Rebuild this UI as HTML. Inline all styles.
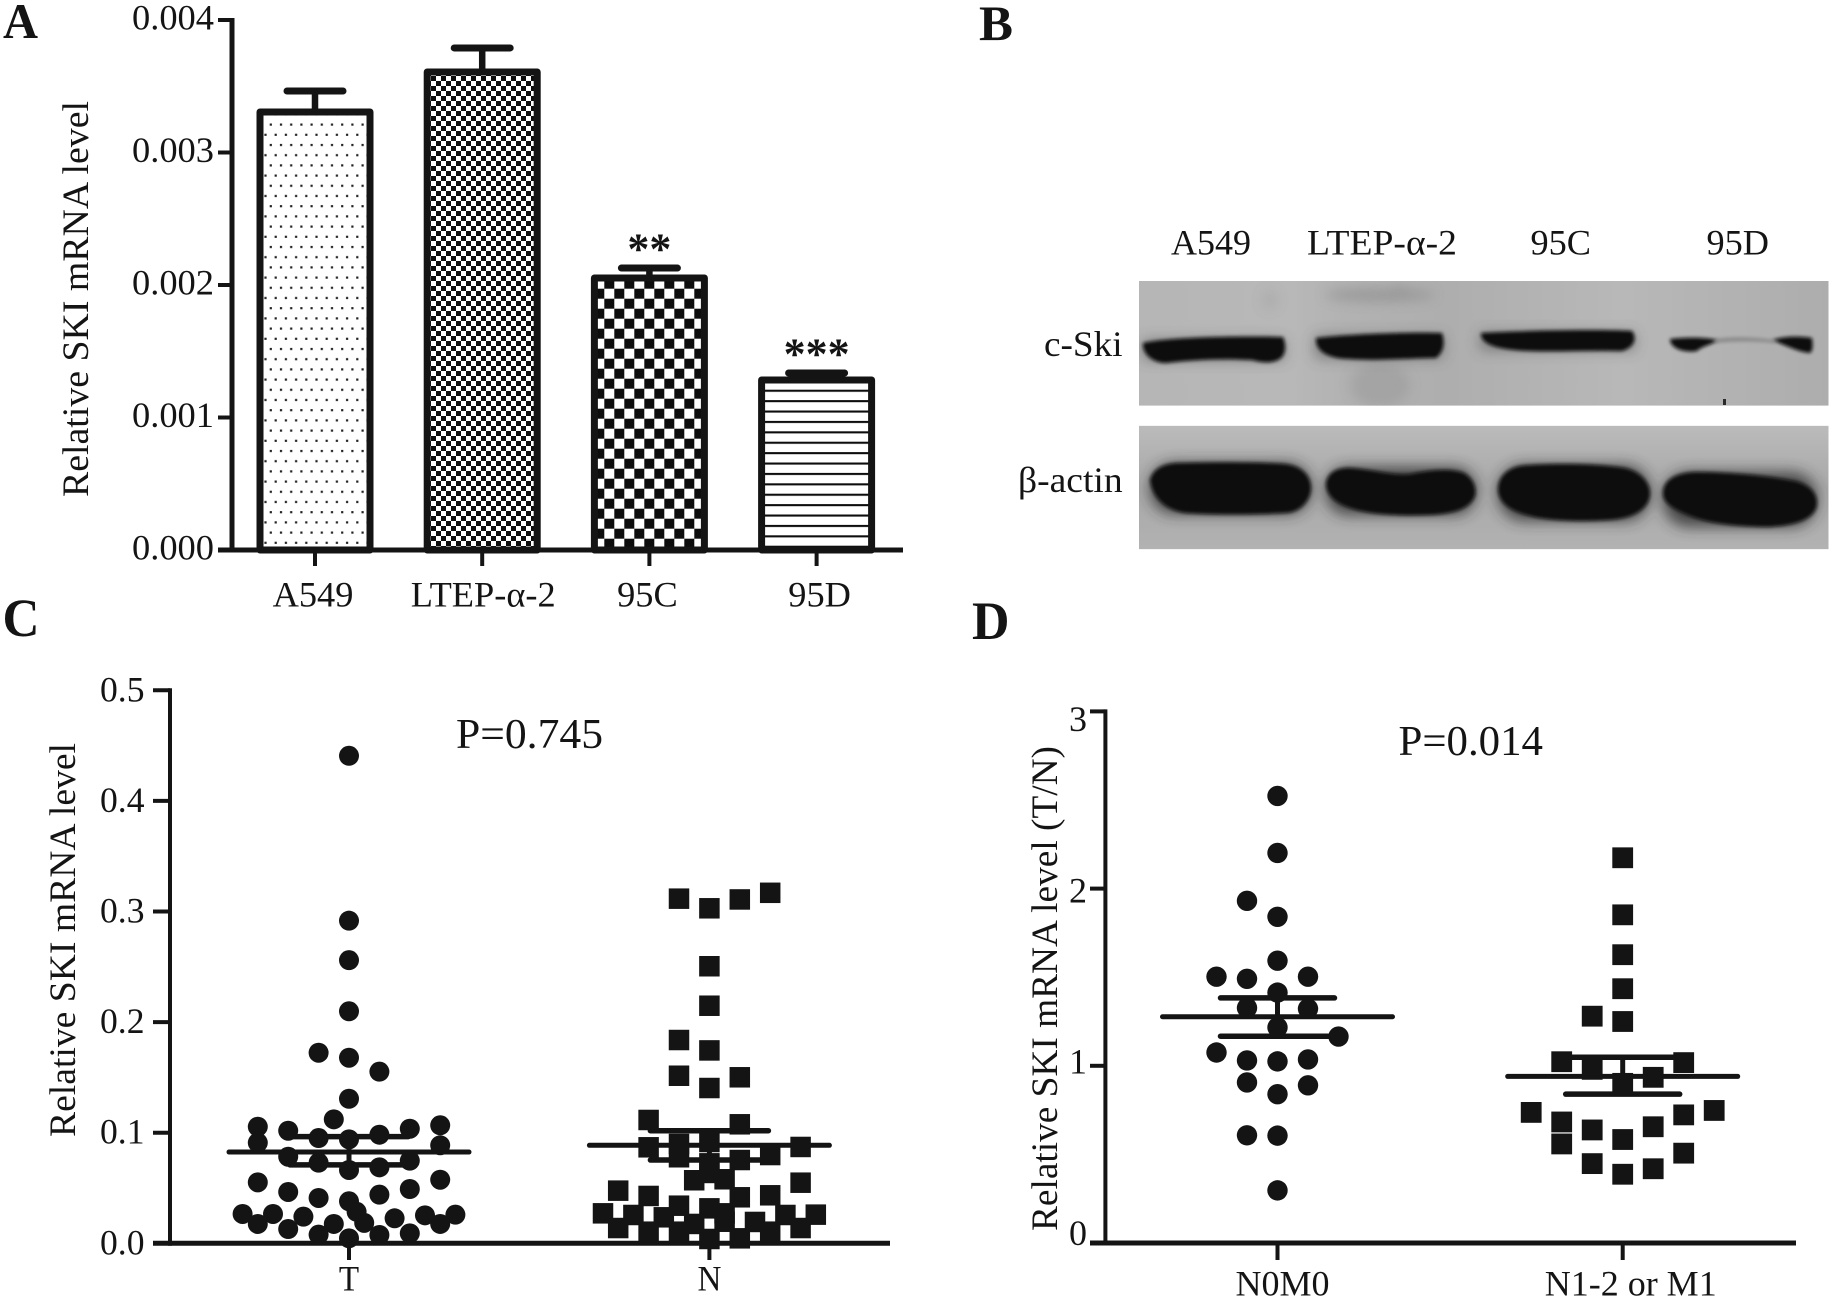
<!DOCTYPE html>
<html lang="en">
<head>
<meta charset="utf-8">
<title>SKI mRNA level figure</title>
<style>
html,body{margin:0;padding:0;background:#fff;}
svg{display:block;}
text{font-family:"Liberation Serif","Noto Serif CJK SC",serif;fill:#141414;}
</style>
</head>
<body>
<svg id="figure" xmlns="http://www.w3.org/2000/svg" width="1830" height="1296" viewBox="0 0 1830 1296">
  <defs>
    <pattern id="fill-dots" patternUnits="userSpaceOnUse" width="20.4" height="20.4" patternTransform="translate(260.5 123.5)">
      <rect width="20.4" height="20.4" fill="#fff"/>
      <rect x="9.2" y="0" width="2.2" height="2.2" fill="#222"/>
      <rect x="3.9" y="10.2" width="2.2" height="2.2" fill="#222"/>
      <rect x="14.1" y="10.2" width="2.2" height="2.2" fill="#222"/>
      <rect x="19.4" y="0" width="1" height="2.2" fill="#222"/>
      <rect x="0" y="0" width="1.2" height="2.2" fill="#222"/>
    </pattern>
    <pattern id="fill-fine-check" patternUnits="userSpaceOnUse" width="10" height="10" patternTransform="translate(431 76)">
      <rect width="10" height="10" fill="#fff"/>
      <rect x="0" y="0" width="5" height="5" fill="#0d0d0d"/>
      <rect x="5" y="5" width="5" height="5" fill="#0d0d0d"/>
    </pattern>
    <pattern id="fill-coarse-check" patternUnits="userSpaceOnUse" width="20" height="20" patternTransform="translate(604.3 278.7)">
      <rect width="20" height="20" fill="#fff"/>
      <rect x="0" y="0" width="10" height="10" fill="#0d0d0d"/>
      <rect x="10" y="10" width="10" height="10" fill="#0d0d0d"/>
    </pattern>
    <pattern id="fill-lines" patternUnits="userSpaceOnUse" width="10.4" height="10.4" patternTransform="translate(760 389.7)">
      <rect width="10.4" height="10.4" fill="#fff"/>
      <rect x="0" y="0" width="10.4" height="2.1" fill="#0d0d0d"/>
    </pattern>
    <linearGradient id="blot-top-bg" x1="0" y1="0" x2="1" y2="0">
      <stop offset="0" stop-color="#b6b6b6"/>
      <stop offset="0.22" stop-color="#b8b8b8"/>
      <stop offset="0.3" stop-color="#b2b2b2"/>
      <stop offset="0.45" stop-color="#aeaeae"/>
      <stop offset="0.7" stop-color="#b8b8b8"/>
      <stop offset="1" stop-color="#adadad"/>
    </linearGradient>
    <linearGradient id="blot-bottom-bg" x1="0" y1="0" x2="0" y2="1">
      <stop offset="0" stop-color="#bbbbbb"/>
      <stop offset="0.5" stop-color="#a8a8a8"/>
      <stop offset="1" stop-color="#b2b2b2"/>
    </linearGradient>
    <filter id="blur-band" x="-10%" y="-40%" width="120%" height="180%"><feGaussianBlur stdDeviation="1.8"/></filter>
    <filter id="blur-halo" x="-15%" y="-50%" width="130%" height="200%"><feGaussianBlur stdDeviation="7"/></filter>
    <filter id="blur-smear" x="-30%" y="-80%" width="160%" height="260%"><feGaussianBlur stdDeviation="6"/></filter>
    <clipPath id="clip-top"><rect x="1139" y="281" width="689.5" height="124.7"/></clipPath>
    <clipPath id="clip-bottom"><rect x="1139" y="425.7" width="689.5" height="123.6"/></clipPath>
  </defs>

  <g>
    <g clip-path="url(#clip-top)">
      <rect x="1139" y="281" width="689.5" height="124.7" fill="url(#blot-top-bg)"/>
      <g fill="#8f8f8f" filter="url(#blur-smear)" opacity="0.75">
        <ellipse cx="1380" cy="295" rx="55" ry="6"/>
        <ellipse cx="1400" cy="293" rx="10" ry="7"/>
        <ellipse cx="1380" cy="385" rx="30" ry="22" opacity="0.5"/>
        <ellipse cx="1270" cy="300" rx="8" ry="10" opacity="0.35"/>
      </g>
      <g fill="#404040" filter="url(#blur-halo)" opacity="0.5">
        <path d="M1143,340 H1284 V360 H1143 Z"/>
        <path d="M1315,336 H1443 V358 H1315 Z"/>
        <path d="M1480,333 H1635 V350 H1480 Z"/>
      </g>
      <g fill="#0b0b0b" filter="url(#blur-band)">
        <path d="M1143,343 C1170,337 1240,336 1283,337 C1286,344 1286,352 1282,357 C1275,364 1262,363 1252,360 C1220,358 1190,360 1166,363 C1152,363 1142,353 1143,343 Z"/>
        <path d="M1316,338 C1350,334 1410,332 1442,333 C1445,342 1444,352 1436,358 C1410,358 1380,361 1350,359 C1330,359 1315,352 1316,338 Z"/>
        <path d="M1481,333 C1520,331 1590,329 1632,331 C1637,338 1635,347 1622,351 C1590,350 1560,352 1530,351 C1500,350 1480,345 1481,333 Z"/>
        <path d="M1670,339 C1685,337 1705,337 1718,340 C1712,345 1702,346 1697,351 C1688,353 1670,350 1670,339 Z"/>
        <path d="M1772,340 C1785,336 1800,336 1812,338 C1813,345 1813,351 1810,353 C1798,352 1785,345 1772,340 Z"/>
      </g>
      <path d="M1715,339 C1735,336 1755,337 1775,340 L1775,343 C1755,341 1735,341 1715,343 Z" fill="#8a8a8a" filter="url(#blur-band)"/>
      <rect x="1723" y="399" width="3" height="6" fill="#2a2a2a"/>
    </g>
    <g clip-path="url(#clip-bottom)">
      <rect x="1139" y="425.7" width="689.5" height="123.6" fill="url(#blot-bottom-bg)"/>
      <g fill="#2e2e2e" filter="url(#blur-halo)" opacity="0.8">
        <rect x="1150" y="463" width="161" height="51" rx="24"/>
        <rect x="1326" y="467" width="150" height="48" rx="22"/>
        <rect x="1498" y="465" width="152" height="56" rx="26"/>
        <rect x="1663" y="472" width="154" height="55" rx="26"/>
      </g>
      <g fill="#090909" filter="url(#blur-band)">
        <path d="M1150,480 C1153,468 1165,463 1180,463 C1220,462 1260,462 1285,464 C1302,466 1311,476 1311,488 C1311,500 1300,513 1285,513 C1250,515 1210,515 1185,513 C1165,510 1152,497 1150,480 Z"/>
        <path d="M1326,484 C1327,472 1338,467 1352,468 C1375,470 1395,476 1410,474 C1430,470 1450,468 1464,473 C1473,478 1477,488 1475,496 C1470,510 1450,514 1430,515 C1400,516 1370,515 1350,508 C1335,503 1326,495 1326,484 Z"/>
        <path d="M1498,490 C1498,475 1510,465 1530,465 C1565,463 1600,464 1625,468 C1642,472 1650,484 1650,493 C1650,508 1635,518 1610,520 C1580,522 1550,521 1530,516 C1510,511 1499,503 1498,490 Z"/>
        <path d="M1663,492 C1664,480 1675,473 1695,472 C1730,472 1770,476 1795,481 C1810,485 1817,493 1817,503 C1817,517 1800,525 1770,527 C1740,527 1710,524 1690,516 C1672,509 1662,502 1663,492 Z"/>
      </g>
    </g>
  </g>
  <g id="layer"></g>
</svg>

<script>
/* ---------- Panel A data ---------- */
const barCategories = ['A549', 'LTEP-α-2', '95C', '95D'];
const barValues = [0.003306, 0.003608, 0.002053, 0.001283];
const barErrors = [0.000158, 0.000181, 0.000075, 0.000053];
const barSignificance = ['', '', '**', '***'];
const barTickValues = [0, 0.001, 0.002, 0.003, 0.004];
const barTickLabels = ['0.000', '0.001', '0.002', '0.003', '0.004'];

/* ---------- Panel C data ---------- */
const tnCategories = ['T', 'N'];
const tnTickValues = [0, 0.1, 0.2, 0.3, 0.4, 0.5];
const tnTickLabels = ['0.0', '0.1', '0.2', '0.3', '0.4', '0.5'];
const tValues = [0.4408, 0.2917, 0.256, 0.2098, 0.1723, 0.1678, 0.1552, 0.1307, 0.1121, 0.1054, 0.091, 0.1018, 0.0952, 0.094, 0.0982, 0.1036, 0.1067, 0.0886, 0.0783, 0.0729, 0.0663, 0.0687, 0.0747, 0.0551, 0.0464, 0.041, 0.038, 0.044, 0.0491, 0.0575, 0.0265, 0.0265, 0.0175, 0.0129, 0.0241, 0.0078, 0.0175, 0.0045, 0.0285, 0.0185, 0.0075, 0.0226, 0.009, 0.0253, 0.0175, 0.0259];
const tSlots = [0, 0, 0, 0, -2, 0, 2, 0, -1, -6, -6, -4, -2, 0, 2, 4, 6, 6, -4, -2, 0, 2, 4, -6, -4, -2, 0, 2, 4, 6, -7, -5, -6, -4, -3, -2, -1, 0, 0.5, 1, 2, 3, 4, 5, 6, 7];
const nValues = [0.3116, 0.3029, 0.3109, 0.3169, 0.2505, 0.2148, 0.1838, 0.1744, 0.1515, 0.1501, 0.1404, 0.1115, 0.1076, 0.0868, 0.0898, 0.0778, 0.0916, 0.0798, 0.0871, 0.0753, 0.0723, 0.057, 0.0579, 0.0636, 0.0476, 0.0428, 0.0416, 0.0434, 0.0548, 0.034, 0.0316, 0.0271, 0.0271, 0.0256, 0.0235, 0.0175, 0.0193, 0.0256, 0.0259, 0.0138, 0.0105, 0.0105, 0.0039, 0.0045, 0.0105, 0.0138, 0.0195];
const nSlots = [-2, 0, 2, 4, 0, 0, -2, 0, -2, 2, 0, -4, 2, -4, -2, -2, 0, 4, 6, 2, 0, -1, 1, 0, -6, -4, 2, 4, 6, -2, 0, 1, -7, -5, -3, -1, 3, 5, 7, -6, -4, -2, 0, 2, 4, 6, 1];
const tnMeans = [0.0825, 0.0886];
const tnUpper = [0.0964, 0.1018];
const tnLower = [0.0709, 0.0753];

/* ---------- Panel D data ---------- */
const stageCategories = ['N0M0', 'N1-2 or M1'];
const stageTickValues = [0, 1, 2, 3];
const stageTickLabels = ['0', '1', '2', '3'];
const n0Values = [2.523, 2.201, 1.931, 1.841, 1.593, 1.503, 1.491, 1.503, 1.413, 1.327, 1.322, 1.217, 1.165, 1.075, 1.03, 1.025, 1.036, 0.906, 0.89, 0.84, 0.608, 0.606, 0.297];
const n0Slots = [0, 0, -2, 0, 0, -4, -2, 2, 0, -2, 2, 0, 4, -4, -2, 0, 2, -2, 2, 0, -2, 0, 0];
const n1Values = [2.174, 1.852, 1.627, 1.435, 1.28, 1.25, 1.023, 1.018, 0.98, 0.935, 0.901, 0.737, 0.748, 0.683, 0.723, 0.638, 0.656, 0.584, 0.559, 0.507, 0.448, 0.419, 0.388];
const n1Slots = [0, 0, 0, 0, -2, 0, -4, 4, -2, 2, 0, -6, 6, -4, 4, -2, 2, 0, -4, 4, -2, 2, 0];
const stageMeans = [1.277, 0.94];
const stageUpper = [1.383, 1.048];
const stageLower = [1.167, 0.84];

/* ---------- Axis functions ---------- */
const yA = v => 550 - v * 132500;
const xA = i => 315 + i * 167.2;
const yC = v => 1243.3 - v * 1106;
const xC = (cat, slot) => [349, 709.4][cat] + slot * 15.2;
const yD = v => 1243 - v * 177.2;
const xD = (cat, slot) => [1277.5, 1622.7][cat] + slot * 15.25;

const NS = 'http://www.w3.org/2000/svg';
const INK = '#141414';
const layer = document.getElementById('layer');

function make(tag, attrs, parent) {
  const el = document.createElementNS(NS, tag);
  for (const k in attrs) el.setAttribute(k, attrs[k]);
  (parent || layer).appendChild(el);
  return el;
}
function line(x1, y1, x2, y2, w, cap, parent) {
  return make('line', { x1, y1, x2, y2, stroke: INK, 'stroke-width': w, 'stroke-linecap': cap || 'butt' }, parent);
}
/* text stretched to span left..right on the given baseline */
function label(str, left, right, baseline, size, weight) {
  const el = make('text', { x: left, y: baseline, 'font-size': size, 'font-weight': weight || 'normal', textLength: right - left, lengthAdjust: 'spacingAndGlyphs' });
  el.textContent = str;
  return el;
}
/* text centred on cx, widened by a stretch factor */
function centred(str, cx, baseline, size, stretch) {
  const el = make('text', { x: cx, y: baseline, 'font-size': size });
  el.textContent = str;
  const w = el.getComputedTextLength() * stretch;
  el.setAttribute('x', cx - w / 2);
  el.setAttribute('textLength', w);
  el.setAttribute('lengthAdjust', 'spacingAndGlyphs');
  return el;
}
function yTitle(str, baseX, centreY, length, size) {
  const el = make('text', { transform: 'translate(' + baseX + ' ' + centreY + ') rotate(-90)', 'text-anchor': 'middle', 'font-size': size, textLength: length, lengthAdjust: 'spacingAndGlyphs' });
  el.textContent = str;
  return el;
}

/* ---------- Panel labels ---------- */
let el;
el = label('A', 3, 38, 38, 50, 'bold');


el = label('B', 979, 1013, 40, 50, 'bold');


el = label('C', 2.5, 39.5, 636, 54, 'bold');


el = label('D', 972, 1009.5, 639, 54, 'bold');



/* ---------- Panel A : bars ---------- */
const barFills = ['url(#fill-dots)', 'url(#fill-fine-check)', 'url(#fill-coarse-check)', 'url(#fill-lines)'];
barCategories.forEach((cat, i) => {
  const cx = xA(i);
  const top = yA(barValues[i]);
  const capY = yA(barValues[i] + barErrors[i]);
  const bar = make('rect', { x: cx - 55, y: top, width: 110, height: yA(0) - top, fill: barFills[i], stroke: INK, 'stroke-width': 7, 'stroke-linejoin': 'round' });
  
  
  const stem = line(cx, top, cx, capY, 6.5);
  
  
  const cap = line(cx - 28, capY, cx + 28, capY, 7, 'round');
  
  
  if (barSignificance[i]) {
    const star = make('text', { x: cx, y: capY - 25 + 0.47 * 44, 'font-size': 44, 'font-weight': 'bold', 'text-anchor': 'middle' });
    star.textContent = barSignificance[i];
    
    
  }
  const tick = line(cx, yA(0), cx, 566, 4);
  
  
  const lab = centred(cat, cx + (i === 2 ? -2 : i === 3 ? 3 : i === 0 ? -2 : 1), 606.5, 36, 1.01);
  
  
});
barTickValues.forEach((v, i) => {
  const tick = line(218, yA(v), 232, yA(v), 4);
  
  
  const lab = label(barTickLabels[i], 132, 214, yA(v) + 9.5, 36);
  
  
});
el = line(232, yA(0.004) - 2, 232, yA(0) + 2.5, 5);


el = line(218, yA(0), 903, yA(0), 5);


el = yTitle('Relative SKI mRNA level', 88, 299, 396, 37.5);



/* ---------- B labels ---------- */
el = label('A549', 1171, 1251, 254.5, 36);


el = label('LTEP-α-2', 1307, 1457, 254.5, 36);


el = label('95C', 1530.5, 1591, 254.5, 36);


el = label('95D', 1706.5, 1769, 254.5, 36);


el = label('c-Ski', 1044, 1122.6, 356, 36);


el = label('β-actin', 1018, 1122.6, 492, 36);



/* ---------- Shared scatter helpers ---------- */
function circle(cx, cy, r) {
  return make('circle', { cx, cy, r, fill: INK });
}
function square(cx, cy, s) {
  return make('rect', { x: cx - s / 2, y: cy - s / 2, width: s, height: s, fill: INK });
}
function meanBars(xCentre, mean, up, low, yFn, half, capHalf) {
  const m = line(xCentre - half, yFn(mean), xCentre + half, yFn(mean), 5, 'round');
  
  
  const u = line(xCentre - capHalf, yFn(up), xCentre + capHalf, yFn(up), 5.5, 'round');
  
  
  const l = line(xCentre - capHalf, yFn(low), xCentre + capHalf, yFn(low), 5.5, 'round');
  
  
  const s = line(xCentre, yFn(up), xCentre, yFn(low), 5);
  
  
}

/* ---------- Panel C ---------- */
tValues.forEach((v, i) => {
  const p = circle(xC(0, tSlots[i]), yC(v), 10);
  
  
});
nValues.forEach((v, i) => {
  const p = square(xC(1, nSlots[i]), yC(v), 20.5);
  
  
});
tnCategories.forEach((cat, i) => {
  meanBars(xC(i, 0), tnMeans[i], tnUpper[i], tnLower[i], yC, 120, 59);
  const tick = line(xC(i, 0), yC(0), xC(i, 0), 1260, 4);
  
  
  const lab = centred(cat, xC(i, 0), 1290.7, 36, 0.92);
  
  
});
tnTickValues.forEach((v, i) => {
  const tick = line(153, yC(v), 170, yC(v), 4);
  
  
  const lab = label(tnTickLabels[i], 100, 144.5, yC(v) + 11, 36);
  
  
});
el = line(170, yC(0.5) - 2, 170, yC(0) + 2.5, 4);


el = line(153, yC(0), 890, yC(0), 5);


el = yTitle('Relative SKI mRNA level', 75, 940, 394, 37.5);


el = label('P=0.745', 456, 603, 748, 42);



/* ---------- Panel D ---------- */
n0Values.forEach((v, i) => {
  const p = circle(xD(0, n0Slots[i]), yD(v), 10.2);
  
  
});
n1Values.forEach((v, i) => {
  const p = square(xD(1, n1Slots[i]), yD(v), 20.8);
  
  
});
stageCategories.forEach((cat, i) => {
  meanBars(xD(i, 0), stageMeans[i], stageUpper[i], stageLower[i], yD, 115, 57);
  const tick = line(xD(i, 0), yD(0), xD(i, 0), 1260, 4);
  
  
  const lab = centred(cat, xD(i, 0) + (i === 0 ? 5 : 8), 1295.5, 36, 1.0);
  
  
});
stageTickValues.forEach((v, i) => {
  const tick = line(1090, yD(v), 1105, yD(v), 4);
  
  
  const lab = label(stageTickLabels[i], 1069, 1087, 1245 - v * 171.3, 36);
  
  
});
el = line(1105.4, yD(3) - 2, 1105.4, yD(0) + 2.5, 4);


el = line(1090, yD(0), 1796, yD(0), 5);


el = yTitle('Relative SKI mRNA level (T/N)', 1057, 988.5, 485, 37.5);


el = label('P=0.014', 1398.5, 1543, 755, 42);


</script>
</body>
</html>
